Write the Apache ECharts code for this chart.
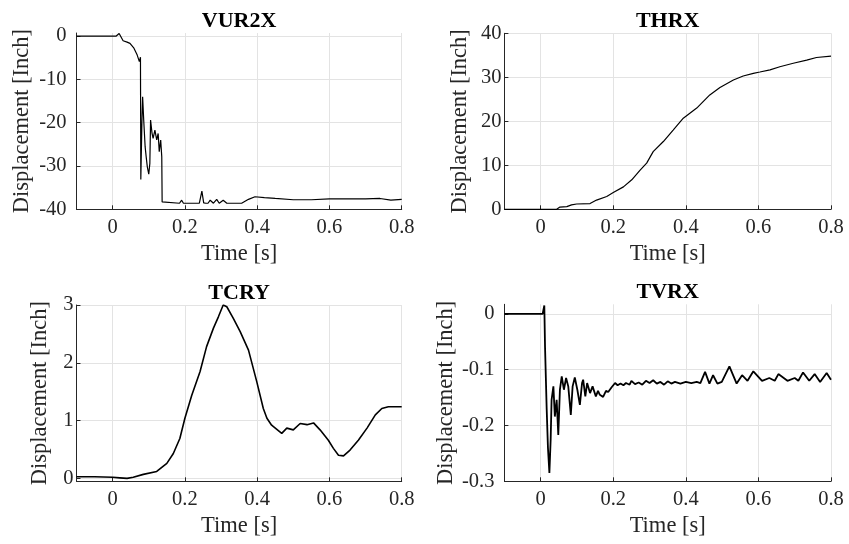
<!DOCTYPE html>
<html>
<head>
<meta charset="utf-8">
<script src="https://cdn.jsdelivr.net/npm/echarts@6/dist/echarts.min.js"></script>
<style>html,body{margin:0;padding:0;background:#fff}#c{width:849px;height:544px}</style>
</head>
<body>
<div id="c"></div>
<script>
const titles = ['VUR2X', 'THRX', 'TCRY', 'TVRX'];
const xTicks = [0, 0.2, 0.4, 0.6, 0.8];
const yTicksVUR2X = [-40, -30, -20, -10, 0];
const yTicksTHRX = [0, 10, 20, 30, 40];
const yTicksTCRY = [0, 1, 2, 3];
const yTicksTVRX = [-0.3, -0.2, -0.1, 0];

const vur2x = [[-0.1,0],[0.010,0],[0.015,0.3],[0.018,0.6],[0.022,0.2],[0.029,-1.1],[0.040,-1.4],[0.048,-1.7],[0.059,-2.8],[0.068,-4.4],[0.074,-5.9],[0.076,-6.3],[0.077,-4.9],[0.078,-33.1],[0.081,-20],[0.083,-14.0],[0.086,-19.4],[0.090,-25.6],[0.093,-28],[0.096,-30.2],[0.100,-31.9],[0.103,-29.4],[0.105,-19.4],[0.109,-22.4],[0.112,-23.6],[0.117,-21.7],[0.122,-24],[0.126,-22.5],[0.129,-26.7],[0.133,-24],[0.136,-27.9],[0.137,-38.3],[0.139,-38.6],[0.185,-38.6],[0.191,-37.9],[0.196,-38.6],[0.240,-38.6],[0.247,-35.8],[0.252,-38.5],[0.258,-38.6],[0.264,-38.6],[0.270,-37.9],[0.279,-38.6],[0.288,-37.7],[0.295,-38.6],[0.306,-37.9],[0.316,-38.6],[0.357,-38.6],[0.376,-37.7],[0.394,-37.1],[0.42,-37.3],[0.45,-37.5],[0.5,-37.8],[0.55,-37.8],[0.6,-37.6],[0.65,-37.6],[0.7,-37.6],[0.74,-37.5],[0.77,-37.9],[0.8,-37.7]];

const thrx = [[-0.1,0],[0.044,0],[0.053,0.5],[0.072,0.6],[0.085,1.0],[0.099,1.2],[0.136,1.3],[0.154,2.1],[0.182,2.9],[0.2,3.8],[0.228,5.1],[0.251,6.7],[0.274,8.9],[0.292,10.5],[0.31,13.1],[0.338,15.4],[0.365,18],[0.393,20.7],[0.43,23],[0.466,26],[0.494,27.7],[0.531,29.4],[0.558,30.3],[0.586,30.9],[0.604,31.2],[0.632,31.7],[0.659,32.4],[0.696,33.2],[0.733,33.9],[0.76,34.5],[0.8,34.8]];

const tcry = [[-0.1,0.03],[-0.05,0.03],[0,0.02],[0.02,0.01],[0.04,0.0],[0.057,0.02],[0.085,0.07],[0.122,0.12],[0.15,0.26],[0.168,0.43],[0.186,0.69],[0.2,1.04],[0.219,1.44],[0.242,1.85],[0.26,2.28],[0.279,2.6],[0.293,2.8],[0.306,3.0],[0.316,2.97],[0.334,2.77],[0.353,2.54],[0.376,2.22],[0.399,1.67],[0.417,1.21],[0.427,1.04],[0.44,0.92],[0.468,0.78],[0.482,0.87],[0.5,0.84],[0.519,0.95],[0.538,0.93],[0.556,0.96],[0.574,0.84],[0.597,0.66],[0.611,0.52],[0.625,0.4],[0.639,0.39],[0.657,0.49],[0.68,0.66],[0.704,0.87],[0.727,1.1],[0.745,1.21],[0.763,1.24],[0.8,1.24]];

const tvrx = [[-0.1,0],[0.0055,0],[0.009,-0.002],[0.010,0.015],[0.012,-0.06],[0.0165,-0.17],[0.020,-0.24],[0.024,-0.285],[0.0275,-0.225],[0.030,-0.154],[0.035,-0.13],[0.039,-0.184],[0.044,-0.154],[0.0485,-0.217],[0.053,-0.136],[0.058,-0.112],[0.064,-0.136],[0.070,-0.115],[0.076,-0.13],[0.083,-0.181],[0.088,-0.13],[0.094,-0.114],[0.101,-0.136],[0.108,-0.163],[0.114,-0.124],[0.117,-0.118],[0.123,-0.148],[0.128,-0.124],[0.136,-0.142],[0.143,-0.13],[0.152,-0.148],[0.158,-0.138],[0.163,-0.145],[0.172,-0.149],[0.180,-0.138],[0.186,-0.14],[0.195,-0.132],[0.205,-0.124],[0.212,-0.128],[0.22,-0.125],[0.228,-0.128],[0.235,-0.124],[0.245,-0.127],[0.25,-0.12],[0.26,-0.126],[0.27,-0.123],[0.28,-0.127],[0.29,-0.12],[0.30,-0.124],[0.31,-0.119],[0.32,-0.125],[0.33,-0.122],[0.34,-0.127],[0.35,-0.121],[0.36,-0.125],[0.37,-0.122],[0.385,-0.125],[0.40,-0.122],[0.415,-0.124],[0.43,-0.122],[0.44,-0.124],[0.453,-0.104],[0.465,-0.125],[0.475,-0.11],[0.487,-0.125],[0.499,-0.122],[0.52,-0.094],[0.54,-0.125],[0.555,-0.11],[0.57,-0.12],[0.586,-0.103],[0.61,-0.12],[0.63,-0.115],[0.645,-0.12],[0.655,-0.108],[0.68,-0.12],[0.7,-0.115],[0.71,-0.12],[0.723,-0.105],[0.74,-0.12],[0.755,-0.108],[0.77,-0.122],[0.788,-0.106],[0.8,-0.118]];

const FONT = 'Liberation Serif';
const TXT = '#262626';
const grids = [
  {left: 76.5, top: 33, width: 325.2, height: 176.3},
  {left: 504.4, top: 33.3, width: 326.6, height: 176},
  {left: 76.5, top: 305, width: 325.2, height: 176.3},
  {left: 504.4, top: 304.3, width: 326.6, height: 177}
];
const yRanges = [[-40, 0.7], [0, 40], [-0.05, 3], [-0.3, 0.017]];
const yTicks = [yTicksVUR2X, yTicksTHRX, yTicksTCRY, yTicksTVRX];
const yNameGaps = [43, 33, 25, 46];
const yLabelMargins = [10, 3, 3, 10];
const seriesData = [vur2x, thrx, tcry, tvrx];
const lineWidths = [1.2, 1.2, 1.6, 1.8];

const chart = echarts.init(document.getElementById('c'), null, {renderer: 'canvas'});
const option = {
  animation: false,
  backgroundColor: '#fff',
  grid: grids.map(g => Object.assign({containLabel: false}, g)),
  xAxis: grids.map((g, i) => ({
    type: 'value', gridIndex: i, min: -0.1, max: 0.8,
    name: 'Time [s]', nameLocation: 'middle', nameGap: 33,
    nameTextStyle: {fontFamily: FONT, fontSize: 22.5, color: TXT},
    axisLine: {show: true, onZero: false, lineStyle: {color: TXT, width: 1}},
    axisTick: {show: true, inside: true, length: 4, customValues: xTicks, lineStyle: {color: TXT}},
    axisLabel: {customValues: xTicks, fontFamily: FONT, fontSize: 20.5, color: TXT, margin: 8},
    splitLine: {show: true, lineStyle: {color: '#e3e3e3', width: 1}}
  })),
  yAxis: grids.map((g, i) => ({
    type: 'value', gridIndex: i, min: yRanges[i][0], max: yRanges[i][1],
    name: 'Displacement [Inch]', nameLocation: 'middle', nameGap: yNameGaps[i],
    nameTextStyle: {fontFamily: FONT, fontSize: 22.5, color: TXT},
    axisLine: {show: true, onZero: false, lineStyle: {color: TXT, width: 1}},
    axisTick: {show: true, inside: true, length: 4, customValues: yTicks[i], lineStyle: {color: TXT}},
    axisLabel: {customValues: yTicks[i], fontFamily: FONT, fontSize: 20.5, color: TXT, margin: yLabelMargins[i]},
    splitLine: {show: true, lineStyle: {color: '#e3e3e3', width: 1}}
  })),
  graphic: grids.map((g, i) => ({
    type: 'text',
    x: g.left + g.width / 2,
    y: g.top - 12,
    style: {text: titles[i], fontFamily: FONT, fontSize: 22, fontWeight: 'bold', fill: '#000', textAlign: 'center', textVerticalAlign: 'middle'}
  })),
  series: seriesData.map((d, i) => ({
    type: 'line', xAxisIndex: i, yAxisIndex: i, data: d,
    showSymbol: false, symbol: 'none', clip: true,
    lineStyle: {color: '#000', width: lineWidths[i]}
  }))
};
chart.setOption(option);
</script>
</body>
</html>
